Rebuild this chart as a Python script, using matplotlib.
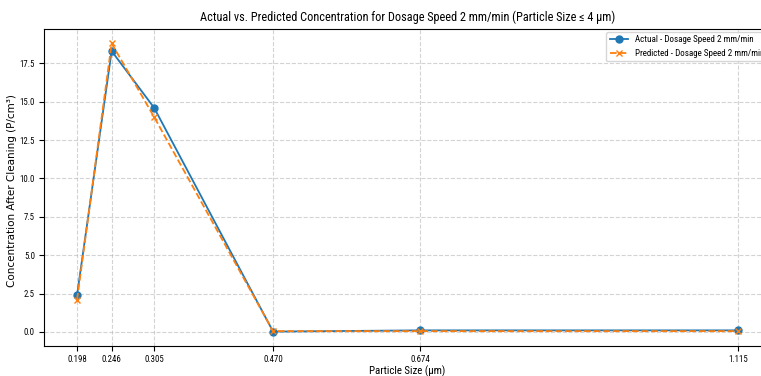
import matplotlib
matplotlib.use("Agg")
import matplotlib.pyplot as plt

particle_sizes = [0.198, 0.246, 0.305, 0.470, 0.674, 1.115]
tick_labels = ["0.198", "0.246", "0.305", "0.470", "0.674", "1.115"]
actual = [2.4, 18.3, 14.6, 0.02, 0.1, 0.1]
predicted = [2.1, 18.8, 14.0, 0.05, 0.05, 0.05]

narrow = ["Roboto Condensed", "DejaVu Sans"]

fig = plt.figure(figsize=(7.61, 3.76), dpi=100)
ax = fig.add_axes([44/761, 30/376, 727/761, 317/376])

ax.plot(particle_sizes, actual, marker="o", markersize=5, linewidth=1.3,
        color="#1f77b4", label="Actual - Dosage Speed 2 mm/min")
ax.plot(particle_sizes, predicted, marker="x", markersize=5, linewidth=1.3,
        linestyle="--", color="#ff7f0e", label="Predicted - Dosage Speed 2 mm/min")

ax.set_xticks(particle_sizes)
ax.set_xticklabels(tick_labels)
ax.set_yticks([0, 2.5, 5, 7.5, 10, 12.5, 15, 17.5])
ax.set_yticklabels(["0.0", "2.5", "5.0", "7.5", "10.0", "12.5", "15.0", "17.5"])
for lbl in ax.get_xticklabels() + ax.get_yticklabels():
    lbl.set_fontfamily(narrow)
    lbl.set_fontsize(6.3)
ax.tick_params(axis="both", length=3.5, pad=3)
ax.grid(True, linestyle="--", alpha=0.55)

ax.set_title("Actual vs. Predicted Concentration for Dosage Speed 2 mm/min (Particle Size \u2264 4 \u00b5m)",
             family=narrow, fontsize=8.8, pad=6)
ax.set_xlabel("Particle Size (\u00b5m)", family=narrow, fontsize=7.8, labelpad=1)
ax.set_ylabel("Concentration After Cleaning (P/cm\u00b3)", fontsize=7.5)
ax.yaxis.set_label_coords(-27/727, 0.49)
ax.legend(loc="upper right", prop={"family": narrow, "size": 6.5},
          borderaxespad=0.3)

fig.savefig("out.png", dpi=100)
